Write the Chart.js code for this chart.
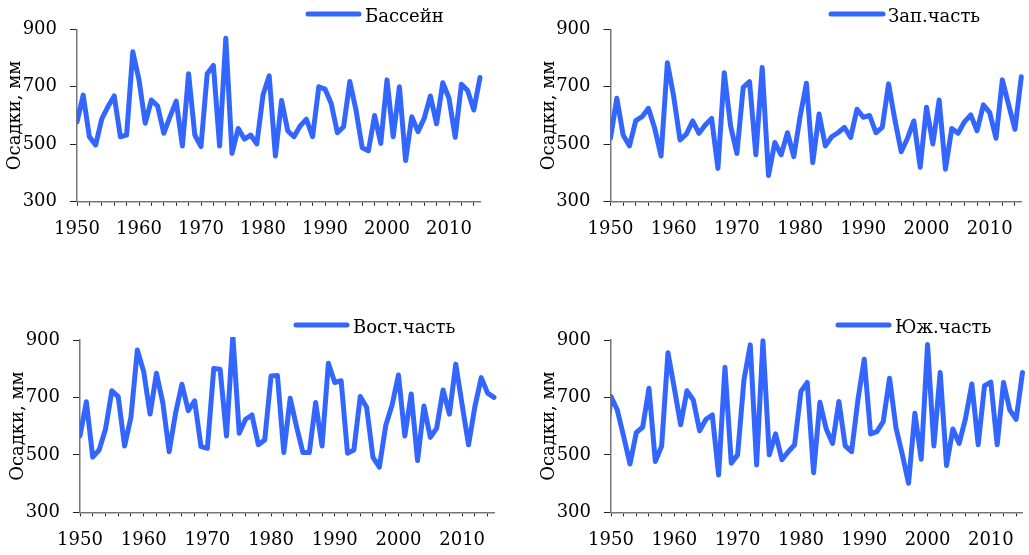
<!DOCTYPE html>
<html>
<head>
<meta charset="utf-8">
<script src="https://cdn.jsdelivr.net/npm/chart.js@4/dist/chart.umd.min.js"></script>
<style>
html,body{margin:0;padding:0;background:#fff;}
body{width:1029px;height:555px;position:relative;overflow:hidden;}
canvas{position:absolute;}
</style>
</head>
<body>
<canvas id="c0" width="515" height="278" style="left:0;top:0"></canvas>
<canvas id="c1" width="514" height="278" style="left:515px;top:0"></canvas>
<canvas id="c2" width="515" height="277" style="left:0;top:278px"></canvas>
<canvas id="c3" width="514" height="277" style="left:515px;top:278px"></canvas>
<script>
// ---- DATA ----
const years = [1949,
  1950,1951,1952,1953,1954,1955,1956,1957,1958,1959,
  1960,1961,1962,1963,1964,1965,1966,1967,1968,1969,
  1970,1971,1972,1973,1974,1975,1976,1977,1978,1979,
  1980,1981,1982,1983,1984,1985,1986,1987,1988,1989,
  1990,1991,1992,1993,1994,1995,1996,1997,1998,1999,
  2000,2001,2002,2003,2004,2005,2006,2007,2008,2009,
  2010,2011,2012,2013,2014,2015];

const basin = [null,
  578,671,526,497,588,631,668,526,532,822,
  724,573,654,633,538,596,650,494,745,532,
  492,745,774,494,869,468,555,518,532,501,
  671,738,459,652,546,526,564,587,526,700,
  692,642,540,561,718,619,488,477,600,503,
  724,526,700,443,596,544,590,668,571,714,
  660,524,709,687,619,732];

const west = [null,
  521,660,532,494,582,596,625,555,459,784,
  666,515,535,581,538,567,590,416,749,564,
  468,698,718,463,767,391,506,463,540,457,
  596,712,436,605,494,526,540,559,524,622,
  594,600,540,559,710,584,474,521,581,420,
  629,501,654,413,555,538,578,602,547,637,
  610,521,724,637,552,735];

const east = [null,
  566,685,492,517,589,723,703,531,631,865,
  790,642,784,682,511,645,746,654,688,529,
  523,801,798,566,915,575,624,639,535,552,
  775,776,508,697,598,508,508,682,531,819,
  752,758,506,517,703,666,491,457,602,674,
  778,566,712,480,670,561,593,726,642,816,
  674,535,668,769,715,700];

const south = [500,
  703,656,564,468,578,596,732,477,531,856,
  732,605,723,691,584,624,639,430,805,471,
  500,761,883,465,897,500,573,483,511,535,
  721,752,438,683,590,540,686,531,511,691,
  833,573,581,616,767,596,503,401,645,485,
  884,531,787,463,590,540,627,747,535,741,
  753,535,752,656,624,787];

const seriesNames = ['Бассейн', 'Зап.часть', 'Вост.часть', 'Юж.часть'];
const yTicks = [300, 500, 700, 900];
const xLabelYears = [1950, 1960, 1970, 1980, 1990, 2000, 2010];
const yTitle = 'Осадки, мм';

// ---- STYLE / LAYOUT ----
Chart.defaults.font.family = '"DejaVu Serif", serif';
Chart.defaults.font.size = 18;
Chart.defaults.color = '#000';

const LINE = 'rgb(51,102,255)';
const Y_AXIS_W = 77;
const X_AXIS_H = 40;

const legendLine = {
  id: 'legendLine',
  afterDraw(chart, args, o) {
    const ctx = chart.ctx;
    const ds = chart.data.datasets[0];
    ctx.save();
    ctx.strokeStyle = ds.borderColor;
    ctx.lineWidth = ds.borderWidth;
    ctx.lineCap = 'round';
    ctx.beginPath();
    ctx.moveTo(o.x1, o.y);
    ctx.lineTo(o.x2, o.y);
    ctx.stroke();
    ctx.fillStyle = '#000';
    ctx.font = '18px "DejaVu Serif", serif';
    ctx.textBaseline = 'alphabetic';
    ctx.textAlign = 'left';
    ctx.fillText(ds.label, o.tx, o.ty);
    ctx.restore();
  }
};

function makeChart(id, label, values, g) {
  const cv = document.getElementById(id);
  const pad = {
    left: g.l - g.cx - Y_AXIS_W,
    right: g.cx + cv.width - g.r,
    top: g.t - g.cy,
    bottom: g.cy + cv.height - g.b - X_AXIS_H
  };
  return new Chart(cv, {
    type: 'line',
    data: {
      datasets: [{
        label: label,
        data: years.map((y, i) => ({x: y, y: values[i]})),
        borderColor: LINE,
        backgroundColor: LINE,
        borderWidth: 5,
        pointRadius: 0,
        pointHoverRadius: 0,
        tension: 0,
        borderJoinStyle: 'round',
        borderCapStyle: 'round',
        spanGaps: false,
        clip: {left: 0, top: 3, right: 3, bottom: 0}
      }]
    },
    options: {
      responsive: false,
      animation: false,
      devicePixelRatio: 1,
      events: [],
      layout: {padding: pad},
      plugins: {
        legend: {display: false},
        tooltip: {enabled: false},
        legendLine: {
          x1: g.lg.x1 - g.cx, x2: g.lg.x2 - g.cx, y: g.lg.y - g.cy,
          tx: g.lg.tx - g.cx, ty: g.lg.ty - g.cy
        }
      },
      scales: {
        x: {
          type: 'linear',
          min: 1950, max: 2015,
          border: {display: true, color: '#767676', width: 1.5},
          grid: {drawOnChartArea: false, drawTicks: true, tickLength: 4, tickColor: '#222', tickWidth: 1},
          ticks: {
            stepSize: 2,
            includeBounds: false,
            autoSkip: false,
            maxRotation: 0,
            padding: 13,
            color: '#000',
            font: {size: 18},
            callback: v => xLabelYears.includes(v) ? String(v) : ''
          },
          afterFit: s => { s.height = X_AXIS_H; s.paddingLeft = 0; s.paddingRight = 0; }
        },
        y: {
          min: 300, max: 900,
          afterBuildTicks: s => { s.ticks = yTicks.map(v => ({value: v})); },
          border: {display: true, color: '#767676', width: 1.5},
          grid: {drawOnChartArea: false, drawTicks: true, tickLength: 7, tickColor: '#222', tickWidth: 1},
          ticks: {padding: 13, color: '#000', font: {size: 18}},
          title: {display: true, text: yTitle, color: '#000', font: {size: 18}, padding: {top: 5, bottom: 0}},
          afterFit: s => { s.width = Y_AXIS_W; s.paddingTop = 0; s.paddingBottom = 0; }
        }
      }
    },
    plugins: [legendLine]
  });
}

makeChart('c0', seriesNames[0], basin, {
  cx: 0, cy: 0, l: 77, r: 480, t: 29.3, b: 201.7,
  lg: {x1: 308, x2: 359, y: 14, tx: 365, ty: 21.7}
});
makeChart('c1', seriesNames[1], west, {
  cx: 515, cy: 0, l: 610.5, r: 1021.3, t: 29.3, b: 201.7,
  lg: {x1: 831, x2: 883, y: 14, tx: 888, ty: 21.7}
});
makeChart('c2', seriesNames[2], east, {
  cx: 0, cy: 278, l: 80, r: 494, t: 340, b: 512.3,
  lg: {x1: 296, x2: 347, y: 325, tx: 353, ty: 332.5}
});
makeChart('c3', seriesNames[3], south, {
  cx: 515, cy: 278, l: 611, r: 1022.5, t: 340, b: 512.3,
  lg: {x1: 838, x2: 889, y: 325, tx: 895, ty: 332.5}
});
</script>
</body>
</html>
